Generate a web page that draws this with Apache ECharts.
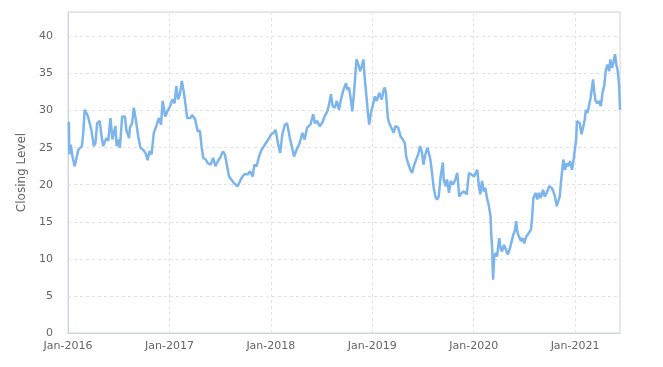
<!DOCTYPE html>
<html>
<head>
<meta charset="utf-8">
<script src="https://cdn.jsdelivr.net/npm/echarts@6/dist/echarts.min.js"></script>
<style>html,body{margin:0;padding:0;background:#fff}#c{width:663px;height:367px}</style>
</head>
<body>
<div id="c"></div>
<script>
const dates = [
'2016-01-04','2016-01-06','2016-01-11','2016-01-17','2016-01-25','2016-02-01','2016-02-07','2016-02-13','2016-02-20','2016-02-25',
'2016-03-01','2016-03-07','2016-03-13','2016-03-19','2016-03-25','2016-04-03','2016-04-09','2016-04-15','2016-04-24','2016-05-01',
'2016-05-07','2016-05-13','2016-05-19','2016-05-25','2016-06-02','2016-06-09','2016-06-14','2016-06-20','2016-06-24','2016-06-30',
'2016-07-06','2016-07-14','2016-07-24','2016-07-29','2016-08-08','2016-08-11','2016-08-19','2016-08-25','2016-09-02','2016-09-10',
'2016-09-18','2016-09-28','2016-10-07','2016-10-14','2016-10-20','2016-10-28','2016-11-05','2016-11-14','2016-11-23','2016-12-01',
'2016-12-07','2016-12-16','2016-12-24',
'2017-01-03','2017-01-10','2017-01-19','2017-01-25','2017-02-01','2017-02-07','2017-02-14','2017-02-21','2017-02-28','2017-03-05',
'2017-03-17','2017-03-24','2017-04-03','2017-04-12','2017-04-20','2017-04-26','2017-05-02','2017-05-11','2017-05-19','2017-05-28',
'2017-06-07','2017-06-15','2017-06-24','2017-07-04','2017-07-12','2017-07-19','2017-07-25','2017-08-03','2017-08-11','2017-08-21',
'2017-09-03','2017-09-09','2017-09-17','2017-09-27','2017-10-09','2017-10-18','2017-10-27','2017-11-02','2017-11-10','2017-11-19',
'2017-11-28','2017-12-10','2017-12-22',
'2018-01-02','2018-01-10','2018-01-18','2018-01-26','2018-02-03','2018-02-11','2018-02-20','2018-02-28','2018-03-09','2018-03-18',
'2018-03-25','2018-04-03','2018-04-14','2018-04-24','2018-05-02','2018-05-11','2018-05-23','2018-06-02','2018-06-08','2018-06-17',
'2018-06-25','2018-07-04','2018-07-13','2018-07-23','2018-07-29','2018-08-05','2018-08-11','2018-08-19','2018-08-26','2018-09-03',
'2018-09-10','2018-09-19','2018-09-28','2018-10-03','2018-10-09','2018-10-15','2018-10-21','2018-10-27','2018-11-05','2018-11-12',
'2018-11-18','2018-11-24','2018-11-30','2018-12-05','2018-12-11','2018-12-16','2018-12-21','2018-12-26',
'2019-01-02','2019-01-10','2019-01-17','2019-01-26','2019-02-04','2019-02-11','2019-02-15','2019-02-19','2019-02-26','2019-03-03',
'2019-03-10','2019-03-19','2019-03-25','2019-04-04','2019-04-13','2019-04-21','2019-04-28','2019-05-03','2019-05-10','2019-05-18',
'2019-05-24','2019-06-01','2019-06-08','2019-06-15','2019-06-22','2019-06-29','2019-07-04','2019-07-11','2019-07-19','2019-07-23',
'2019-07-29','2019-08-04','2019-08-10','2019-08-16','2019-08-22','2019-08-28','2019-09-04','2019-09-12','2019-09-15','2019-09-22',
'2019-09-27','2019-10-04','2019-10-10','2019-10-18','2019-10-27','2019-11-03','2019-11-10','2019-11-19','2019-11-27','2019-12-07',
'2019-12-15','2019-12-22',
'2020-01-02','2020-01-09','2020-01-14','2020-01-20','2020-01-25','2020-01-31','2020-02-06','2020-02-12','2020-02-18','2020-02-24',
'2020-03-02','2020-03-04','2020-03-08','2020-03-09','2020-03-11','2020-03-15','2020-03-20','2020-03-25','2020-04-02','2020-04-07',
'2020-04-12','2020-04-19','2020-04-26','2020-05-03','2020-05-11','2020-05-17','2020-05-23','2020-05-29','2020-06-02','2020-06-07',
'2020-06-13','2020-06-19','2020-06-25','2020-07-01','2020-07-08','2020-07-14','2020-07-20','2020-07-25','2020-07-29','2020-08-03',
'2020-08-09','2020-08-11','2020-08-17','2020-08-23','2020-08-29','2020-09-07','2020-09-13','2020-09-20','2020-09-29','2020-10-07',
'2020-10-14','2020-10-20','2020-10-26','2020-10-31','2020-11-06','2020-11-10','2020-11-15','2020-11-19','2020-11-25','2020-12-01',
'2020-12-07','2020-12-13','2020-12-20','2020-12-26',
'2021-01-04','2021-01-07','2021-01-11','2021-01-17','2021-01-23','2021-01-29','2021-02-04','2021-02-08','2021-02-14','2021-02-18',
'2021-02-25','2021-03-01','2021-03-06','2021-03-10','2021-03-15','2021-03-21','2021-03-27','2021-04-03','2021-04-09','2021-04-15',
'2021-04-21','2021-04-27','2021-05-03','2021-05-07','2021-05-13','2021-05-18','2021-05-24','2021-05-29','2021-06-03','2021-06-08',
'2021-06-11'
];
const closes = [
28.5,24.1,25.4,23.8,22.5,22.3,24.7,24.5,25.2,27.0,
30.1,29.7,29.2,28.3,27.4,25.2,25.7,28.3,28.6,26.5,
25.2,25.9,26.3,25.9,29.0,26.1,27.0,27.9,25.2,26.1,
25.0,29.2,29.2,27.4,26.3,27.7,28.3,30.4,28.6,26.5,
25.0,24.7,24.2,23.3,24.5,24.1,27.0,27.9,29.0,28.1,
31.3,29.2,29.9,
30.6,31.5,31.0,33.3,31.5,32.2,34.0,32.5,30.6,29.0,
29.0,29.4,28.8,27.2,27.3,25.2,23.6,23.4,22.9,22.7,
23.6,22.5,23.2,23.8,24.5,24.1,22.9,21.1,20.7,20.2,
19.8,19.6,20.9,21.4,21.4,21.8,21.1,22.7,22.5,23.8,
24.7,25.4,26.1,
26.8,27.0,27.4,25.6,24.3,26.8,28.1,28.3,26.5,25.0,
23.8,24.7,25.6,27.0,26.1,27.7,28.1,29.5,28.3,28.6,
27.9,28.3,29.2,29.9,30.8,32.2,30.6,30.4,31.3,30.1,
31.5,32.8,33.7,32.8,33.1,31.7,29.9,32.4,36.9,36.2,
35.3,36.0,36.9,34.2,31.9,29.7,28.1,29.5,
30.6,31.9,31.3,32.4,31.5,32.8,33.1,32.4,29.0,28.3,
28.4,27.0,27.9,27.7,26.5,26.1,25.6,23.8,22.9,22.0,
21.6,22.7,22.7,24.1,25.2,24.3,22.7,24.1,25.0,25.2,
23.4,21.6,19.6,18.4,18.0,18.4,21.1,23.0,20.7,19.8,
20.7,18.9,20.5,20.0,20.7,21.6,18.4,18.9,19.1,18.7,
21.6,21.6,
21.1,21.0,22.0,19.8,18.7,20.5,19.1,19.6,18.2,17.3,
15.7,13.5,11.2,9.4,7.2,10.3,10.8,10.3,12.8,11.5,
11.0,11.9,11.7,10.6,11.5,12.4,13.3,13.9,15.1,13.5,
13.3,12.4,12.8,12.1,13.0,13.3,13.5,13.9,15.3,18.2,
18.0,18.9,18.0,18.9,18.2,19.3,18.4,18.9,19.8,19.6,
19.1,18.4,17.1,17.1,18.4,20.2,22.0,23.4,22.0,22.9,
22.5,23.2,22.0,23.4,
26.1,28.6,28.8,28.3,26.8,27.7,28.8,30.1,29.7,30.4,
31.7,31.9,34.2,32.6,31.3,31.0,31.3,30.6,32.4,33.3,
35.5,36.2,35.3,36.9,35.8,36.4,37.6,36.2,35.3,33.3,
30.1
];
const yTicks = [0, 5, 10, 15, 20, 25, 30, 35, 40];
const yAxisTitle = 'Closing Level';
const xStart = '2016-01-01';

const DAY = 86400000;
const seriesData = dates.map((d, i) => [Date.parse(d), closes[i]]);
const xMin = Date.parse(xStart);
const xMax = Date.parse(dates[dates.length - 1]);

const chart = echarts.init(document.getElementById('c'), null, {renderer: 'canvas'});
chart.setOption({
  animation: false,
  backgroundColor: '#ffffff',
  textStyle: {fontFamily: 'DejaVu Sans'},
  grid: {left: 68, right: 43, top: 12, bottom: 34, show: true, borderColor: '#d4d4d4', borderWidth: 1, containLabel: false},
  xAxis: {
    type: 'value',
    min: xMin,
    max: xMax,
    interval: 365.25 * DAY,
    axisLine: {show: true, lineStyle: {color: '#ccd6eb', width: 1}},
    axisTick: {show: false},
    splitLine: {show: true, lineStyle: {color: '#e3e3e3', type: [3, 3], width: 1}},
    axisLabel: {
      color: '#666666', fontSize: 11, margin: 8, showMaxLabel: false,
      formatter: v => 'Jan-' + new Date(v + 3 * DAY).getUTCFullYear()
    }
  },
  yAxis: {
    type: 'value',
    min: yTicks[0],
    max: 43.3,
    interval: 5,
    name: yAxisTitle,
    nameLocation: 'middle',
    nameGap: 36,
    nameRotate: 90,
    nameTextStyle: {color: '#666666', fontSize: 12},
    axisLine: {show: true, lineStyle: {color: '#ccd6eb', width: 1}},
    axisTick: {show: false},
    splitLine: {show: true, lineStyle: {color: '#e3e3e3', type: [3, 3], width: 1}},
    axisLabel: {
      color: '#666666', fontSize: 11, margin: 15, showMaxLabel: false,
      formatter: v => (yTicks.indexOf(v) >= 0 ? String(v) : '')
    }
  },
  series: [{
    type: 'line',
    data: seriesData,
    showSymbol: false,
    symbol: 'none',
    lineStyle: {color: '#7cb5ec', width: 2.5},
    itemStyle: {color: '#7cb5ec'}
  }]
});
</script>
</body>
</html>
